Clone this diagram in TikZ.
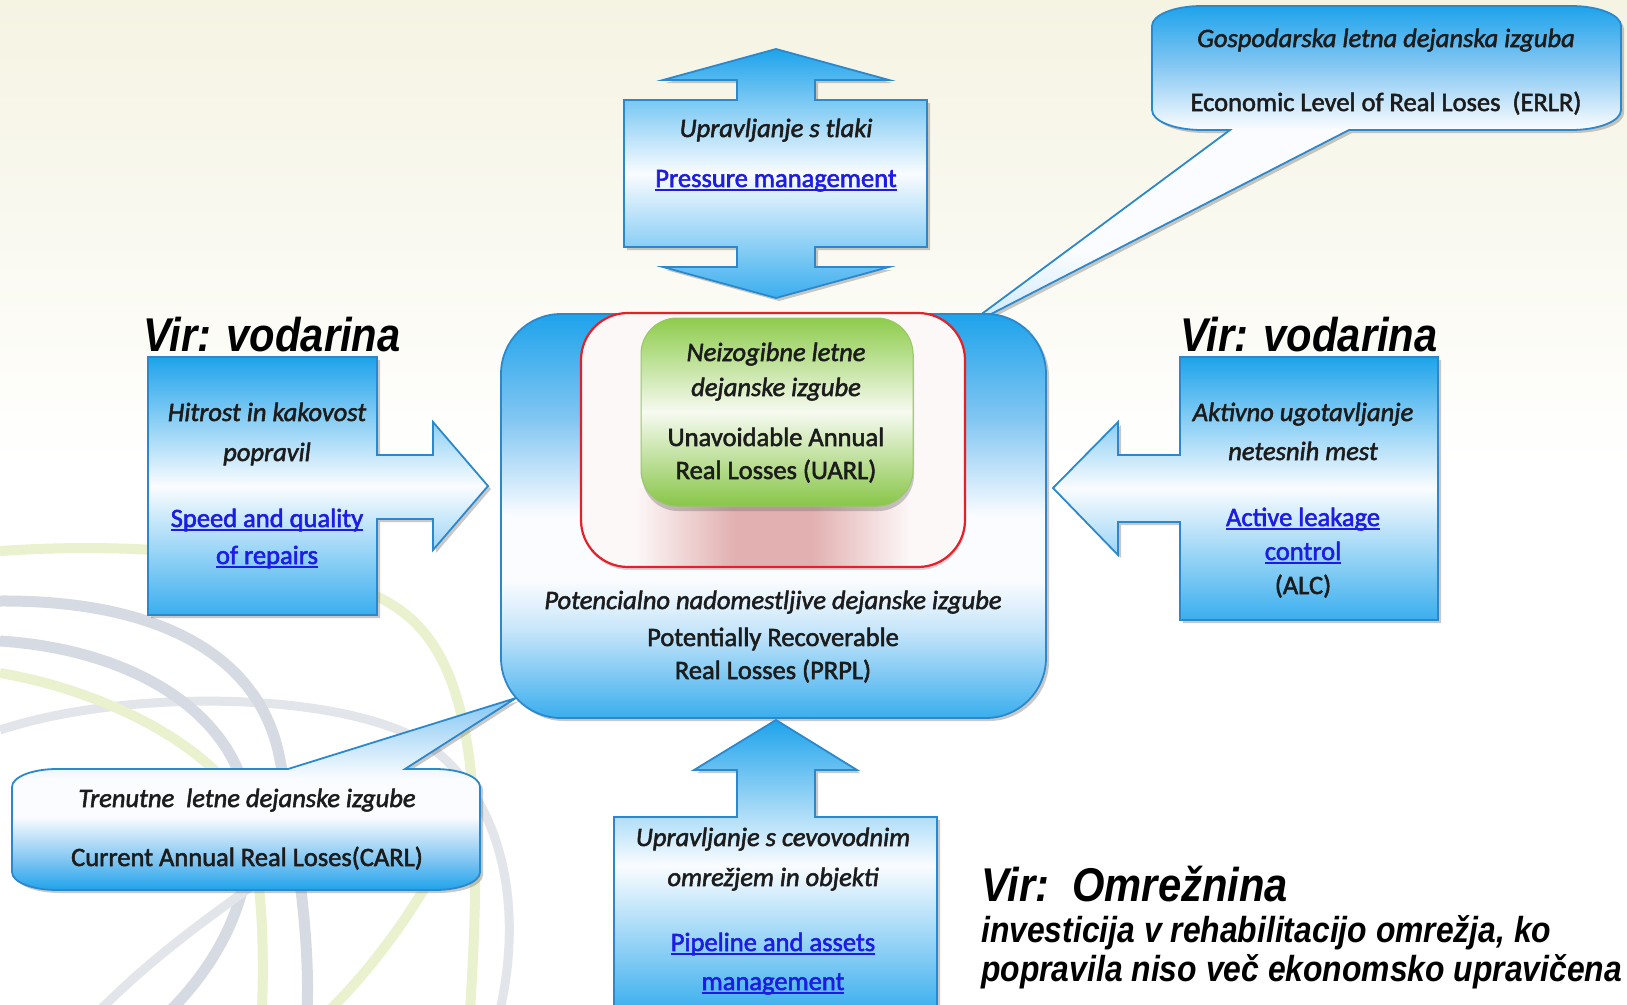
\documentclass[tikz,border=0pt]{standalone}
\usepackage{fontspec}
\setmainfont{Carlito}[FakeBold=2]
\newfontfamily\virfont{Liberation Sans}[FakeStretch=0.88]
\usetikzlibrary{shadows,fadings}
\definecolor{bA}{RGB}{30,163,235}
\definecolor{bB}{RGB}{58,174,238}
\definecolor{bM}{RGB}{130,198,242}
\definecolor{bL}{RGB}{200,230,250}
\definecolor{bW}{RGB}{250,252,255}
\definecolor{bE}{RGB}{44,136,205}
\definecolor{gA}{RGB}{142,204,76}
\definecolor{gB}{RGB}{136,198,72}
\definecolor{gW}{RGB}{246,250,240}
\definecolor{gE}{RGB}{150,200,100}
\definecolor{rE}{RGB}{228,32,40}
\definecolor{rW}{RGB}{253,248,248}
\definecolor{pk}{RGB}{226,176,176}
\definecolor{lk}{RGB}{28,28,228}
\definecolor{tx}{RGB}{28,28,28}
\definecolor{cream}{RGB}{245,243,226}
\definecolor{arcg}{RGB}{214,218,226}
\definecolor{arcl}{RGB}{226,229,234}
\definecolor{arcy}{RGB}{234,241,206}
\pgfdeclareverticalshading{cbshade}{100bp}{color(0bp)=(bB); color(25bp)=(bB); color(36bp)=(bL); color(42bp)=(bW); color(50bp)=(bW); color(62bp)=(bM); color(75bp)=(bA); color(100bp)=(bA)}
\pgfdeclareverticalshading{ershade}{100bp}{color(0bp)=(bL); color(25bp)=(bL); color(37bp)=(bW); color(56bp)=(bW); color(66bp)=(bM); color(75bp)=(bA); color(100bp)=(bA)}
\pgfdeclareverticalshading{cashade}{100bp}{color(0bp)=(bA); color(25bp)=(bA); color(33bp)=(bM); color(44bp)=(bW); color(54bp)=(bW); color(75bp)=(bM); color(100bp)=(bM)}
\pgfdeclarehorizontalshading{pkshade}{100bp}{color(0bp)=(rW); color(32bp)=(rW); color(45bp)=(pk); color(55bp)=(pk); color(68bp)=(rW); color(100bp)=(rW)}
\newcommand\lnk[1]{{\color{lk}\setbox0=\hbox{#1}\rlap{\rule[-4pt]{\wd0}{1.8pt}}\box0}}
\tikzset{
  bluefill/.style={draw=bE, line width=1.8pt, drop shadow={shadow xshift=3pt,shadow yshift=-3pt,opacity=0.3,fill=black!70}},
  bwb/.style={bluefill, top color=bA, bottom color=bB, middle color=bW},
  ltxt/.style={anchor=base, inner sep=0pt, text=tx, font=\fontsize{26.5}{32}\selectfont},
  vir/.style={anchor=base, inner sep=0pt, text=black, font=\virfont\bfseries\itshape\fontsize{47.4}{52}\selectfont},
  note/.style={anchor=base west, inner sep=0pt, text=black, font=\virfont\bfseries\itshape\fontsize{36.2}{40}\selectfont},
  arcG/.style={draw=arcg, line width=11pt},
  arcL/.style={draw=arcl, line width=9pt},
  arcY/.style={draw=arcy, line width=10pt},
}
\begin{document}
\begin{tikzpicture}[x=1pt,y=-1pt]
\useasboundingbox (0,0) rectangle (1627,1004);
\begin{scope}
\clip (0,0) rectangle (1627,1004);
% background
\fill[white] (0,0) rectangle (1627,1004);
\shade[top color=cream, bottom color=white] (0,0) rectangle (1627,470);
% decorative arcs
\draw[arcL] (0,730) .. controls (120,690) and (330,690) .. (420,740) .. controls (500,790) and (525,900) .. (500,1010);
\draw[arcY] (0,551) .. controls (160,540) and (330,560) .. (400,610) .. controls (470,660) and (485,780) .. (470,1010);
\draw[arcY] (0,673) .. controls (100,690) and (200,740) .. (240,800) .. controls (260,850) and (265,930) .. (262,1010);
\draw[arcG] (0,601) .. controls (150,600) and (260,650) .. (280,760) .. controls (300,860) and (310,950) .. (307,1010);
\draw[arcG] (0,641) .. controls (140,650) and (250,720) .. (250,830) .. controls (250,900) and (220,960) .. (171,1010);
\draw[arcL] (100,1010) .. controls (160,950) and (220,910) .. (260,880);
\draw[arcY] (330,1010) .. controls (380,960) and (420,900) .. (440,860);

% ERLR callout
\path[bluefill, shading=ershade] (1230,130) -- (1202,130) .. controls (1174,130) and (1152,121) .. (1152,110) -- (1152,26) .. controls (1152,15) and (1174,6) .. (1202,6) -- (1571,6) .. controls (1599,6) and (1621,15) .. (1621,26) -- (1621,110) .. controls (1621,121) and (1599,130) .. (1571,130) -- (1349,130) -- (960,330) -- cycle;
% CARL callout
\path[bluefill, shading=cashade] (288,769) -- (57,769) .. controls (32,769) and (12,777) .. (12,787) -- (12,872) .. controls (12,882) and (32,890) .. (57,890) -- (435,890) .. controls (460,890) and (480,882) .. (480,872) -- (480,787) .. controls (480,777) and (460,769) .. (435,769) -- (405,769) -- (516,698) -- cycle;

% central blue box
\path[bluefill, shading=cbshade, rounded corners=60pt] (501,314) rectangle (1046,718);
% red box
\path[fill=rW, rounded corners=47pt, drop shadow={shadow xshift=1pt,shadow yshift=-3pt,opacity=0.25,fill=black!60}] (581,313) rectangle (965,567);
\begin{scope}
\clip[rounded corners=47pt] (581,313) rectangle (965,567);
\shade[shading=pkshade] (581,488) rectangle (965,567);
\end{scope}
\path[draw=rE, line width=2.2pt, rounded corners=47pt] (581,313) rectangle (965,567);
% green box
\path[draw=gE, line width=1pt, top color=gA, bottom color=gB, middle color=gW, rounded corners=36pt, drop shadow={shadow xshift=1pt,shadow yshift=-5pt,opacity=0.35,fill=black!60}] (641,318) rectangle (913,506);

% top double arrow
\path[bwb] (776,49) -- (889,80) -- (815,80) -- (815,100) -- (927,100) -- (927,247) -- (815,247) -- (815,267) -- (889,267) -- (776,298) -- (663,267) -- (737,267) -- (737,247) -- (624,247) -- (624,100) -- (737,100) -- (737,80) -- (663,80) -- cycle;
% left arrow callout
\path[bwb] (148,357) -- (377,357) -- (377,455) -- (433,455) -- (433,422) -- (488,486) -- (433,550) -- (433,519) -- (377,519) -- (377,615) -- (148,615) -- cycle;
% right arrow callout
\path[bwb] (1438,357) -- (1180,357) -- (1180,455) -- (1118,455) -- (1118,422) -- (1053,488) -- (1118,555) -- (1118,522) -- (1180,522) -- (1180,620) -- (1438,620) -- cycle;
% bottom up arrow
\path[bwb] (776,720) -- (857,770) -- (815,770) -- (815,817) -- (937,817) -- (937,1012) -- (614,1012) -- (614,817) -- (737,817) -- (737,770) -- (694,770) -- cycle;
\end{scope}

% texts
\node[ltxt] (pm1) at (776,137) {\itshape Upravljanje s tlaki};
\node[ltxt] (pm2) at (776,187) {\lnk{Pressure management}};

\node[ltxt] (er1) at (1386,47) {\itshape Gospodarska letna dejanska izguba};
\node[ltxt] (er2) at (1386,111) {Economic Level of Real Loses\ \ (ERLR)};

\node[vir] (virL) at (272,351) {Vir: vodarina};
\node[vir] (virR) at (1309,351) {Vir: vodarina};

\node[ltxt] (sq1) at (267,421) {\itshape Hitrost in kakovost};
\node[ltxt] (sq2) at (267,461) {\itshape popravil};
\node[ltxt] (sq3) at (267,527) {\lnk{Speed and quality}};
\node[ltxt] (sq4) at (267,564) {\lnk{of repairs}};

\node[ltxt] (al1) at (1303,421) {\itshape Aktivno ugotavljanje};
\node[ltxt] (al2) at (1303,460) {\itshape netesnih mest};
\node[ltxt] (al3) at (1303,526) {\lnk{Active leakage}};
\node[ltxt] (al4) at (1303,560) {\lnk{control}};
\node[ltxt] (al5) at (1303,594) {(ALC)};

\node[ltxt] (ua1) at (776,361) {\itshape Neizogibne letne};
\node[ltxt] (ua2) at (776,396) {\itshape dejanske izgube};
\node[ltxt] (ua3) at (776,446) {Unavoidable Annual};
\node[ltxt] (ua4) at (776,479) {Real Losses (UARL)};

\node[ltxt] (pr1) at (773,609) {\itshape Potencialno nadomestljive dejanske izgube};
\node[ltxt] (pr2) at (773,646) {Potentially Recoverable};
\node[ltxt] (pr3) at (773,679) {Real Losses (PRPL)};

\node[ltxt] (ca1) at (247,807) {\itshape Trenutne\ \ letne dejanske izgube};
\node[ltxt] (ca2) at (247,866) {Current Annual Real Loses(CARL)};

\node[ltxt] (pa1) at (773,846) {\itshape Upravljanje s cevovodnim};
\node[ltxt] (pa2) at (773,886) {\itshape omrežjem in objekti};
\node[ltxt] (pa3) at (773,951) {\lnk{Pipeline and assets}};
\node[ltxt] (pa4) at (773,990) {\lnk{management}};

\node[vir, anchor=base west] (om1) at (981,901) {Vir:\ \ Omrežnina};
\node[note] (om2) at (981,942) {investicija v rehabilitacijo omrežja, ko};
\node[note] (om3) at (981,981) {popravila niso več ekonomsko upravičena};
\end{tikzpicture}
\end{document}
